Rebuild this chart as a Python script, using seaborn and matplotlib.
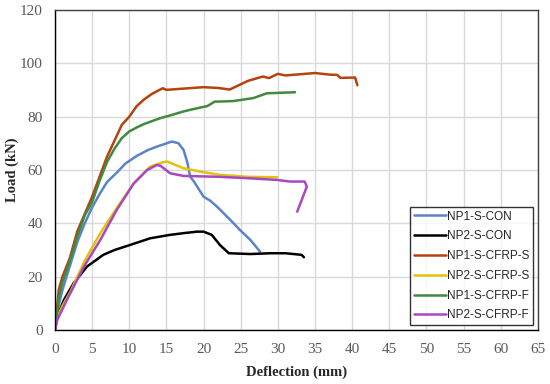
import numpy as np
import pandas as pd
import matplotlib
matplotlib.use("Agg")
import matplotlib.pyplot as plt
import seaborn as sns

series_names = ["NP1-S-CON", "NP2-S-CON", "NP1-S-CFRP-S", "NP2-S-CFRP-S", "NP1-S-CFRP-F", "NP2-S-CFRP-F"]

np1_con_x = [0, 0.3, 1, 2, 3, 4, 5, 6, 7, 8.3, 9.5, 11, 12.5, 13.7, 15, 15.7, 16.6, 17.3, 17.8, 18.2, 18.7, 20, 20.9, 21.8, 23.6, 24.9, 26.3, 27.6]
np1_con_y = [0, 7, 15, 24, 33, 40, 46, 51, 55.5, 59, 62.5, 65.3, 67.5, 68.8, 70, 70.7, 70.1, 67.6, 63, 57.5, 55.7, 50, 48.5, 46.3, 41.3, 37.5, 33.8, 29.4]

np2_con_x = [0, 0.3, 1.2, 2.5, 4.3, 6.5, 8, 10.1, 12.8, 15.5, 17.5, 19.1, 20, 21.1, 22.2, 23.4, 26.3, 29, 31, 33.2, 33.5]
np2_con_y = [0, 5, 11.3, 17.5, 23.8, 28.2, 30, 31.9, 34.4, 35.7, 36.4, 36.9, 36.9, 35.7, 31.9, 28.8, 28.5, 28.8, 28.8, 28.2, 27.3]

np1_s_x = [0, 0.5, 1, 2, 3, 5, 7, 9, 10, 11, 12, 13, 14.5, 15, 17, 20, 22, 23.5, 26, 28, 28.8, 30, 31, 35, 37, 38, 38.4, 40.4, 40.7]
np1_s_y = [0, 15, 20, 27, 37, 50, 65, 77, 80, 84, 86.5, 88.5, 90.7, 90.1, 90.5, 91.1, 90.8, 90.2, 93.5, 95.1, 94.5, 96.1, 95.5, 96.4, 95.8, 95.7, 94.6, 94.7, 91.8]

np2_s_x = [0, 0.5, 1, 2.1, 4, 6.1, 8.3, 10.6, 12.8, 14.6, 15.1, 17.3, 19.6, 22.2, 25.8, 29.9]
np2_s_y = [0, 6, 9, 14.5, 26, 36.3, 45.7, 55, 61.3, 63, 63.2, 60.7, 59.4, 58.2, 57.5, 57.3]

np1_f_x = [0, 0.5, 1, 2, 3, 4, 5, 6, 7, 8, 9, 10, 11, 12, 13, 14.2, 15.5, 17.3, 18.5, 20.5, 21.5, 22.2, 24, 26.7, 28.5, 32.3]
np1_f_y = [0, 12, 18, 26, 35, 43, 48, 56, 63, 68, 72, 74.5, 76, 77.3, 78.3, 79.5, 80.5, 82, 82.8, 84, 85.7, 85.7, 85.9, 87, 88.8, 89.2]

np2_f_x = [0, 0.3, 1.6, 3.9, 6.1, 8.3, 10.6, 12.4, 13.7, 14.2, 15.5, 17.3, 21.8, 26.3, 29.9, 31.6, 33.6, 33.9, 32.6]
np2_f_y = [0, 3.8, 11.3, 23.8, 33.8, 45, 55, 60, 61.9, 61.6, 58.8, 57.8, 57.5, 56.9, 56.3, 55.7, 55.7, 53.8, 44.4]

x_ticks = list(range(0, 70, 5))
y_ticks = list(range(0, 140, 20))

colors = ["#5B84C8", "#000000", "#B5420F", "#E2C20C", "#3F8A3C", "#A848C0"]

frames = []
for name, xs, ys in zip(series_names,
                        [np1_con_x, np2_con_x, np1_s_x, np2_s_x, np1_f_x, np2_f_x],
                        [np1_con_y, np2_con_y, np1_s_y, np2_s_y, np1_f_y, np2_f_y]):
    frames.append(pd.DataFrame({"Deflection": xs, "Load": ys, "Series": name,
                                "order": np.arange(len(xs))}))
df = pd.concat(frames, ignore_index=True)

sns.set_style("white")
fig = plt.figure(figsize=(5.5, 3.84), dpi=100)
ax = fig.add_axes([0.1, 0.1406, 0.878, 0.833])

sns.lineplot(data=df, x="Deflection", y="Load", hue="Series", hue_order=series_names,
             palette=colors, sort=False, estimator=None, units="Series", lw=1.8, ax=ax)

ax.set_xlim(0, 65)
ax.set_ylim(0, 120)
ax.set_xticks(x_ticks)
ax.set_yticks(y_ticks)
ax.grid(True, color="#D9D9D9", lw=1)
ax.set_axisbelow(True)
for s in ax.spines.values():
    s.set_color("#404040")
    s.set_linewidth(1.0)
    s.set_visible(True)
ax.spines["left"].set_color("black")
ax.spines["bottom"].set_color("black")

serif = ["Liberation Serif", "DejaVu Serif"]
for lab in ax.get_xticklabels() + ax.get_yticklabels():
    lab.set_family(serif)
    lab.set_fontsize(11)
    lab.set_color("#595959")
ax.tick_params(axis="x", length=0, pad=9)
ax.tick_params(axis="y", length=0, pad=9)
ax.set_xlabel("Deflection (mm)", family=serif, fontsize=10.5, fontweight="bold", labelpad=7)
ax.set_ylabel("Load (kN)", family=serif, fontsize=10.5, fontweight="bold", labelpad=0.5)

leg = ax.legend(loc="lower right", bbox_to_anchor=(0.9896, 0.0156), frameon=True, fancybox=False,
                prop={"family": ["Liberation Sans", "DejaVu Sans"], "size": 8.5},
                handlelength=2.7, handletextpad=0.1, labelspacing=0.66, borderpad=0.3,
                borderaxespad=0.0)
leg.get_frame().set_edgecolor("black")
leg.get_frame().set_linewidth(1.0)
for h in leg.get_lines():
    h.set_linewidth(1.8)

fig.savefig("out.png", dpi=100)
